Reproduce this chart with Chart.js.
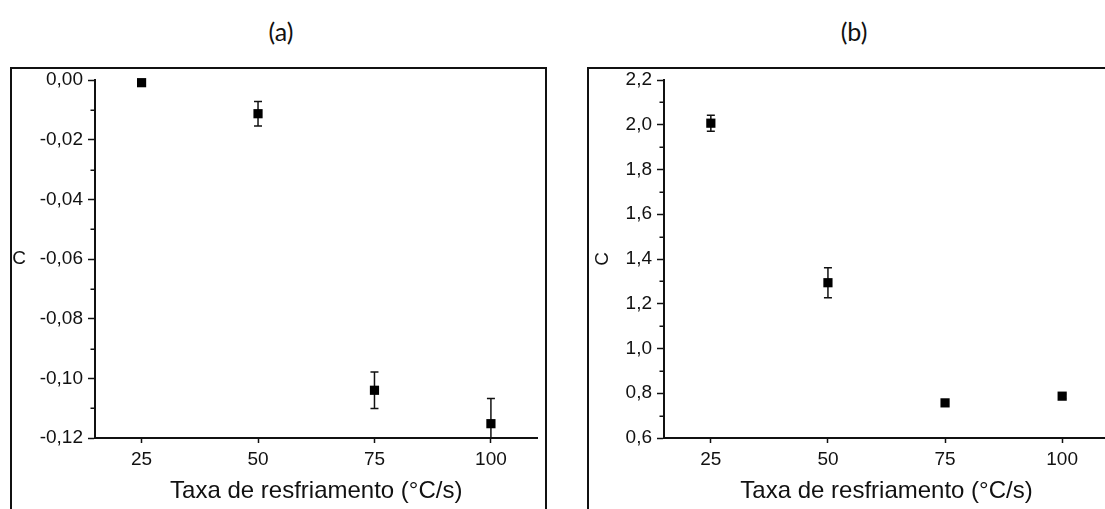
<!DOCTYPE html>
<html>
<head>
<meta charset="utf-8">
<script src="https://cdn.jsdelivr.net/npm/chart.js@4/dist/chart.umd.min.js"></script>
<style>
  body { margin: 0; width: 1105px; height: 509px; overflow: hidden; background: #fff; position: relative; }
  .frame { position: absolute; top: 67px; height: 500px; border: 2px solid #111; box-sizing: border-box; }
  .panel-title { position: absolute; top: 16px; font: 25px Lato, sans-serif; line-height: 30px; transform: translateX(-50%); color: #111; }
  canvas { position: absolute; }
</style>
</head>
<body>
<div class="panel-title" style="left:281px">(a)</div>
<div class="panel-title" style="left:854px">(b)</div>
<div class="frame" style="left:10px; width:537px"></div>
<div class="frame" style="left:587px; width:600px"></div>
<canvas id="chart-a" width="531" height="439" style="left:13px; top:70px"></canvas>
<canvas id="chart-b" width="530" height="439" style="left:590px; top:70px"></canvas>
<script>
/* cooling rates (°C/s) */
let rates = [25, 50, 75, 100]
let rateTicks = [25, 50, 75, 100]

/* (a) coefficient C1 with its errors */
let c1Values = [-0.0009, -0.0113, -0.1040, -0.1152]
let c1Errors = [0.0004, 0.0041, 0.0061, 0.0084]
let c1Ticks = [-0.12, -0.10, -0.08, -0.06, -0.04, -0.02, 0]

/* (b) coefficient C with its errors */
let cValues = [2.007, 1.294, 0.757, 0.787]
let cErrors = [0.036, 0.067, 0.004, 0.010]
let cTicks = [0.6, 0.8, 1.0, 1.2, 1.4, 1.6, 1.8, 2.0, 2.2]

let axisFont = "'Liberation Sans', Arial, sans-serif"
let ink = '#111'

// vertical error bars with small caps, drawn under the markers
let errorBars = {
    id: 'errorBars',
    beforeDatasetsDraw(chart) {
        let errs = chart.options.plugins.errorBars.errors
        let vals = chart.data.datasets[0].data
        let x = chart.scales.x, y = chart.scales.y
        let ctx = chart.ctx
        let area = chart.chartArea
        ctx.save()
        ctx.beginPath()
        ctx.rect(area.left, area.top - 10, area.right - area.left, area.bottom - area.top + 10)
        ctx.clip()
        ctx.strokeStyle = ink
        ctx.lineWidth = 1.5
        vals.forEach((p, i) => {
            let px = x.getPixelForValue(p.x)
            let top = y.getPixelForValue(p.y + errs[i])
            let bot = y.getPixelForValue(p.y - errs[i])
            ctx.beginPath()
            ctx.moveTo(px, top); ctx.lineTo(px, bot)
            ctx.moveTo(px - 4, top); ctx.lineTo(px + 4, top)
            ctx.moveTo(px - 4, bot); ctx.lineTo(px + 4, bot)
            ctx.stroke()
        })
        ctx.restore()
    }
}

// short unlabeled ticks halfway between the labeled ones on the y axis
let minorTicks = {
    id: 'minorTicks',
    afterDraw(chart) {
        let y = chart.scales.y
        let ctx = chart.ctx
        let left = chart.chartArea.left
        ctx.save()
        ctx.strokeStyle = ink
        ctx.lineWidth = 1.5
        for (let i = 0; i < y.ticks.length - 1; i++) {
            let mid = (y.ticks[i].value + y.ticks[i + 1].value) / 2
            let py = Math.round(y.getPixelForValue(mid)) + 0.25
            ctx.beginPath()
            ctx.moveTo(left, py); ctx.lineTo(left - 4.5, py)
            ctx.stroke()
        }
        ctx.restore()
    }
}

// y axis name, placed by hand so one can stay upright
let yTitle = {
    id: 'yTitle',
    afterDraw(chart) {
        let o = chart.options.plugins.yTitle
        let ctx = chart.ctx
        let a = chart.chartArea
        ctx.save()
        ctx.translate(o.x, (a.top + a.bottom) / 2)
        if (o.rotate) ctx.rotate(-Math.PI / 2)
        ctx.font = '19px ' + axisFont
        ctx.fillStyle = ink
        ctx.textAlign = 'center'
        ctx.textBaseline = 'middle'
        ctx.fillText(o.text, 0, 0)
        ctx.restore()
    }
}

function buildChart(canvasId, values, errors, yTicks, decimals, yWidth, padRight, title) {
    let ctx = document.querySelector(canvasId).getContext('2d')
    let points = rates.map((r, i) => ({ x: r, y: values[i] }))
    return new Chart(ctx, {
        type: 'scatter',
        data: {
            datasets: [{
                data: points,
                pointStyle: 'rect',
                pointRadius: 6.5,
                pointHoverRadius: 6.5,
                backgroundColor: '#000',
                borderWidth: 0,
                clip: false
            }]
        },
        options: {
            responsive: false,
            animation: false,
            events: [],
            layout: { padding: { top: 10, right: padRight, bottom: 0, left: 0 } },
            plugins: {
                legend: { display: false },
                tooltip: { enabled: false },
                errorBars: { errors: errors },
                yTitle: title
            },
            scales: {
                x: {
                    type: 'linear',
                    min: 15,
                    max: 110,
                    afterBuildTicks: s => { s.ticks = rateTicks.map(v => ({ value: v })) },
                    afterFit: s => { s.height = 71; s.paddingLeft = 0; s.paddingRight = 0 },
                    grid: { drawOnChartArea: false, tickLength: 5, tickWidth: 1.5, tickColor: ink },
                    border: { color: ink, width: 2 },
                    ticks: { color: ink, padding: 7, font: { family: axisFont, size: 19, lineHeight: 1 } },
                    title: {
                        display: true,
                        text: 'Taxa de resfriamento (°C/s)',
                        color: ink,
                        padding: { top: 0, bottom: 3 },
                        font: { family: axisFont, size: 24 }
                    }
                },
                y: {
                    min: yTicks[0],
                    max: yTicks[yTicks.length - 1],
                    afterBuildTicks: s => { s.ticks = yTicks.map(v => ({ value: v })) },
                    afterFit: s => { s.width = yWidth; s.paddingTop = 0; s.paddingBottom = 0 },
                    grid: { drawOnChartArea: false, tickLength: 7, tickWidth: 1.5, tickColor: ink },
                    border: { color: ink, width: 2 },
                    ticks: {
                        color: ink,
                        padding: 5,
                        font: { family: axisFont, size: 19, lineHeight: 1 },
                        callback: v => v.toFixed(decimals).replace('.', ',')
                    }
                }
            }
        },
        plugins: [errorBars, minorTicks, yTitle]
    })
}

let chartA = buildChart('#chart-a', c1Values, c1Errors, c1Ticks, 2, 82, 6, { text: 'C', x: 6, rotate: false })
let chartB = buildChart('#chart-b', cValues, cErrors, cTicks, 1, 74, 11, { text: 'C', x: 12.5, rotate: true })
</script>
</body>
</html>
